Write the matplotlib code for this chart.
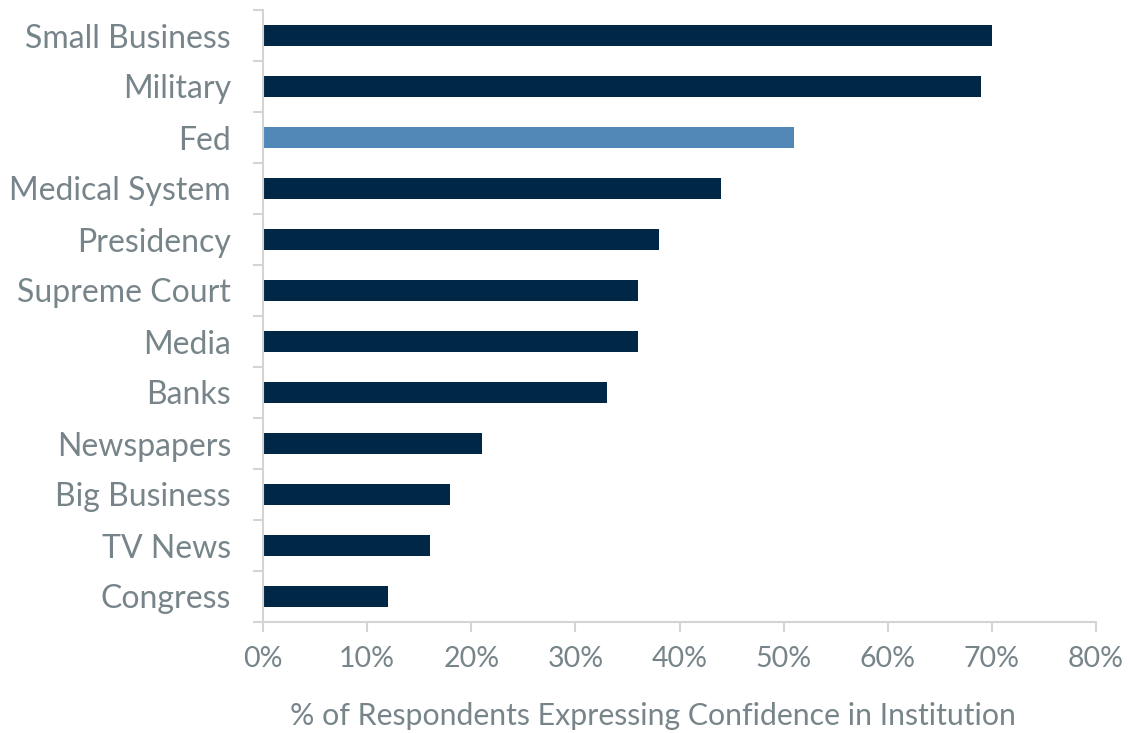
import matplotlib
matplotlib.use("Agg")
import matplotlib.pyplot as plt
import numpy as np
from matplotlib.ticker import FuncFormatter, FixedLocator

categories = ["Small Business", "Military", "Fed", "Medical System", "Presidency",
              "Supreme Court", "Media", "Banks", "Newspapers", "Big Business",
              "TV News", "Congress"]
values = [70, 69, 51, 44, 38, 36, 36, 33, 21, 18, 16, 12]
highlight = "Fed"
xticks = [0, 10, 20, 30, 40, 50, 60, 70, 80]
xlabel = "% of Respondents Expressing Confidence in Institution"

dark = "#002846"
light = "#5288b8"
text_c = "#77858a"
axis_c = "#d4d4d4"

plt.rcParams['font.family'] = ['Lato', 'DejaVu Sans']

fig = plt.figure(figsize=(11.3, 7.33), dpi=100)
ax = fig.add_axes([263/1130, 1-622/733, (1096-263)/1130, (622-10)/733])

n = len(categories)
ypos = np.arange(n)
colors = [light if c == highlight else dark for c in categories]
ax.barh(ypos, values, height=0.4, color=colors)
ax.set_ylim(n - 0.5, -0.5)
ax.set_xlim(0, 80)

ax.set_yticks(ypos)
ax.set_yticklabels(categories, fontsize=23, color=text_c)
ax.yaxis.set_minor_locator(FixedLocator(np.arange(-0.5, n, 1.0)))
ax.tick_params(axis='y', which='major', length=0, pad=23)
ax.tick_params(axis='y', which='minor', length=7, width=1.5, color=axis_c)

ax.set_xticks(xticks)
ax.xaxis.set_major_formatter(FuncFormatter(lambda v, p: f"{v:.0f}%"))
ax.tick_params(axis='x', length=7, width=1.5, color=axis_c, labelsize=20.5,
               labelcolor=text_c, pad=10)
ax.set_xlabel(xlabel, fontsize=21.8, color=text_c)
ax.xaxis.set_label_coords((653-263)/833, -(730-622)/612, transform=ax.transAxes)
ax.xaxis.label.set_va('bottom')

for s in ["top", "right"]:
    ax.spines[s].set_visible(False)
for s in ["left", "bottom"]:
    ax.spines[s].set_color(axis_c)
    ax.spines[s].set_linewidth(1.5)

fig.savefig("out.png", dpi=100)
